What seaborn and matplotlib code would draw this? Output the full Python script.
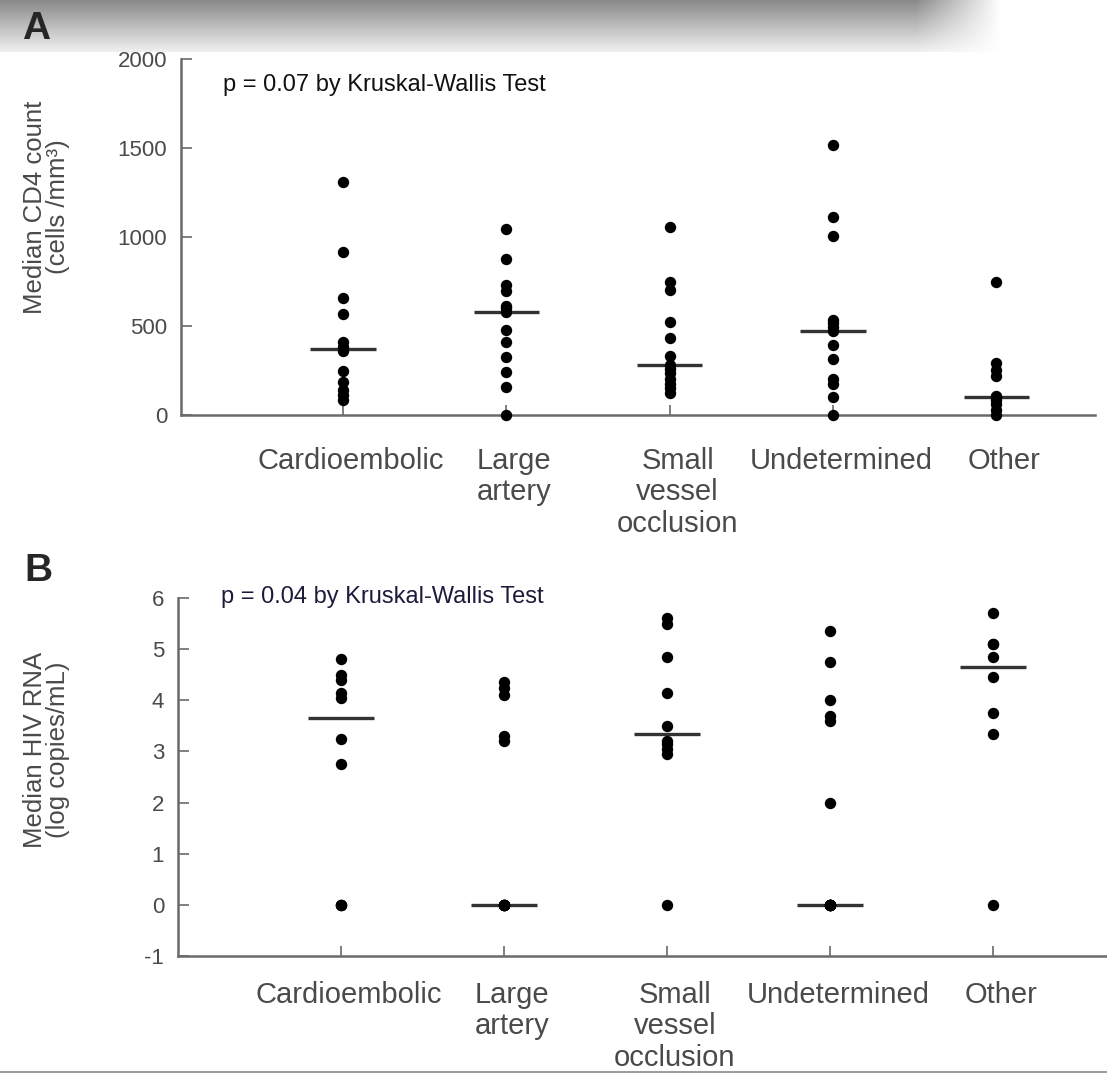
import numpy as np
import pandas as pd
import matplotlib
matplotlib.use("Agg")
import matplotlib.pyplot as plt
import matplotlib.transforms as mtransforms
from matplotlib.lines import Line2D
import seaborn as sns

# stroke subtype groups
categories = ["Cardioembolic", "Large\nartery", "Small\nvessel\nocclusion", "Undetermined", "Other"]

# panel A: CD4 count (cells/mm3)
cd4_cardio = [1310, 915, 655, 570, 410, 380, 360, 250, 185, 140, 110, 85]
cd4_large = [1045, 875, 730, 695, 615, 600, 580, 477, 408, 328, 243, 155, 0]
cd4_small = [1055, 745, 705, 525, 430, 330, 280, 260, 235, 205, 175, 150, 125]
cd4_undet = [1515, 1115, 1005, 535, 515, 495, 472, 395, 315, 200, 175, 100, 0]
cd4_other = [745, 290, 255, 220, 106, 100, 85, 60, 30, 0]

# panel B: HIV RNA (log copies/mL)
hiv_cardio = [4.8, 4.5, 4.4, 4.15, 4.05, 3.25, 2.75, 0, 0, 0]
hiv_large = [4.35, 4.25, 4.1, 3.3, 3.2, 0, 0, 0, 0, 0, 0]
hiv_small = [5.6, 5.5, 4.85, 4.15, 3.5, 3.2, 3.15, 3.05, 2.95, 0]
hiv_undet = [5.35, 4.75, 4.0, 3.7, 3.6, 2.0, 0, 0, 0, 0, 0, 0, 0]
hiv_other = [5.7, 5.1, 5.1, 4.85, 4.45, 3.75, 3.35, 0]

cd4_ticks = [0, 500, 1000, 1500, 2000]
hiv_ticks = [-1, 0, 1, 2, 3, 4, 5, 6]


def long_df(groups):
    rows = []
    for cat, vals in zip(categories, groups):
        for v in vals:
            rows.append((cat, v))
    return pd.DataFrame(rows, columns=["group", "value"])


df_a = long_df([cd4_cardio, cd4_large, cd4_small, cd4_undet, cd4_other])
df_b = long_df([hiv_cardio, hiv_large, hiv_small, hiv_undet, hiv_other])

sns.set_style("white")
plt.rcParams["font.family"] = ["Liberation Sans", "DejaVu Sans"]
plt.rcParams["axes.unicode_minus"] = False

W, H = 1107, 1073
fig = plt.figure(figsize=(W / 100, H / 100), dpi=100)

# gray gradient header band
band_h = 52
yy = np.linspace(0, 1, band_h)[:, None]
xx = np.arange(W)[None, :]
shade = 0.54 + 0.40 * yy
alpha = np.clip((1000 - xx) / 85.0, 0, 1) * np.ones_like(shade)
rgba = np.dstack([shade * np.ones_like(alpha)] * 3 + [alpha])
hax = fig.add_axes([0, 1 - band_h / H, 1, band_h / H])
hax.imshow(rgba, aspect="auto", interpolation="nearest")
hax.axis("off")

fig.text(22 / W, 1 - 29 / H, "A", fontsize=28, fontweight="bold", va="center", ha="left")
fig.text(24 / W, 1 - 571 / H, "B", fontsize=28, fontweight="bold", va="center", ha="left")

fig.add_artist(Line2D([0, 1], [1.5 / H, 1.5 / H], color="#8a8a8a", lw=1.2))

spine_c = "#6a6a6a"
text_c = "#4a4a4a"


def draw_panel(ax, df, ylim, yticks, ylabel, ptext, xlim, xpad, label_xy, pcolor, ysize):
    sns.boxplot(data=df, x="group", y="value", order=categories, width=0.4,
                showbox=False, showcaps=False, showfliers=False,
                whiskerprops={"visible": False},
                medianprops={"color": "#333333", "linewidth": 2.4},
                ax=ax)
    sns.stripplot(data=df, x="group", y="value", order=categories, jitter=False,
                  color="black", size=8.2, linewidth=0, ax=ax, zorder=3, clip_on=False)
    ax.set_xlim(*xlim)
    ax.set_ylim(*ylim)
    ax.set_yticks(yticks)
    ax.set_xlabel("")
    ax.set_ylabel(ylabel, fontsize=18.5, color=text_c, linespacing=0.95)
    ax.yaxis.set_label_coords(*label_xy)
    sns.despine(ax=ax)
    for s in ["left", "bottom"]:
        ax.spines[s].set_color(spine_c)
        ax.spines[s].set_linewidth(1.8)
    ax.tick_params(axis="y", left=True, direction="in", length=8, width=1.2, color=spine_c,
                   labelsize=ysize, labelcolor=text_c, pad=10)
    ax.tick_params(axis="x", bottom=True, direction="in", length=7, width=1.2, color=spine_c,
                   labelsize=21, labelcolor=text_c, pad=xpad)
    shift = mtransforms.ScaledTranslation(8 / 100, 0, fig.dpi_scale_trans)
    for lab in ax.get_xticklabels():
        lab.set_transform(lab.get_transform() + shift)
        lab.set_linespacing(1.15)
    ax.text(0.046, ptext[1], ptext[0], transform=ax.transAxes, fontsize=17,
            color=pcolor, va="center", ha="left")


ax_a = fig.add_axes([181 / W, 1 - 415 / H, 914 / W, 356 / H])
draw_panel(ax_a, df_a, (0, 2000), cd4_ticks, "Median CD4 count\n(cells /mm³)",
           ("p = 0.07 by Kruskal-Wallis Test", 0.927), (-0.992, 4.605), 23,
           (-0.121, 0.584), "#111111", 16)

ax_b = fig.add_axes([178 / W, 1 - 956 / H, 929 / W, 358 / H])
draw_panel(ax_b, df_b, (-1, 6), hiv_ticks, "Median HIV RNA\n(log copies/mL)",
           ("p = 0.04 by Kruskal-Wallis Test", 1.003), (-1.0, 4.70), 18,
           (-0.116, 0.575), "#1c1c3a", 16)

fig.savefig("out.png", dpi=100)
